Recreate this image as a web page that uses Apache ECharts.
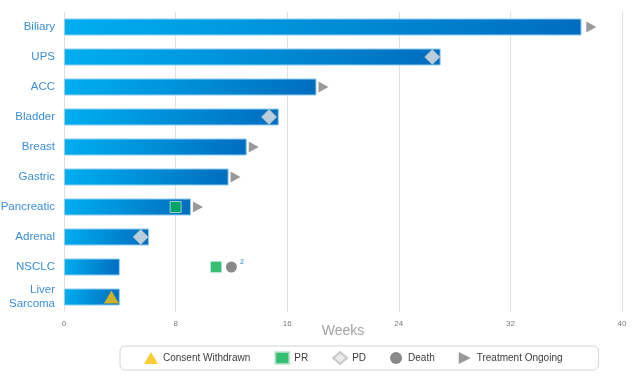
<!DOCTYPE html>
<html>
<head>
<meta charset="utf-8">
<script src="https://cdn.jsdelivr.net/npm/echarts@6/dist/echarts.min.js"></script>
<style>
  html, body { margin: 0; padding: 0; background: #fff; }
  #chart { width: 640px; height: 376px; }
</style>
</head>
<body>
<div id="chart"></div>
<script>
// tumour types, top to bottom
const categories = ['Biliary', 'UPS', 'ACC', 'Bladder', 'Breast', 'Gastric', 'Pancreatic', 'Adrenal', 'NSCLC', 'Liver\nSarcoma'];
// weeks on treatment
const weeks = [37.1, 27.0, 18.1, 15.4, 13.1, 11.8, 9.1, 6.1, 4.0, 4.0];

// events: [week, category]
const consentWithdrawn = [[3.4, 'Liver\nSarcoma']];
const prEvents = [[8.0, 'Pancreatic'], [10.9, 'NSCLC']];
const pdEvents = [[26.4, 'UPS'], [14.7, 'Bladder'], [5.5, 'Adrenal']];
const deathEvents = [[12.0, 'NSCLC']];
const ongoing = [[37.8, 'Biliary'], [18.6, 'ACC'], [13.6, 'Breast'], [12.3, 'Gastric'], [9.6, 'Pancreatic']];

const xTicks = { min: 0, max: 40, interval: 8 };

const arrowPath = 'path://M0,0 L10,5 L0,10 Z';
const font = 'Liberation Sans, Arial, sans-serif';

const chart = echarts.init(document.getElementById('chart'));

chart.setOption({
  animation: false,
  textStyle: { fontFamily: font },
  // axis title sits closer to the tick labels than the axis name would
  title: {
    text: 'Weeks',
    left: 343,
    top: 324,
    textAlign: 'center',
    padding: 0,
    textStyle: { color: '#a3a3a3', fontSize: 14, fontWeight: 'normal', fontFamily: font }
  },
  grid: { left: 64, right: 18, top: 12, bottom: 64, containLabel: false, outerBoundsMode: 'none' },
  xAxis: {
    type: 'value',
    min: xTicks.min,
    max: xTicks.max,
    interval: xTicks.interval,
    axisLine: { show: false },
    axisTick: { show: false },
    axisLabel: { color: '#7a7a7a', fontSize: 8, margin: 8 },
    splitLine: { lineStyle: { color: '#e0e0e0', width: 1 } }
  },
  yAxis: {
    type: 'category',
    inverse: true,
    data: categories,
    axisLine: { show: false },
    axisTick: { show: false },
    axisLabel: { color: '#3a8fd6', fontSize: 11.5, margin: 9, lineHeight: 14 }
  },
  legend: {
    bottom: 6,
    left: 120,
    width: 620,
    borderColor: '#d4d4d4',
    borderWidth: 1,
    borderRadius: 5,
    padding: [5, 36, 5, 24],
    itemGap: 24,
    itemWidth: 14,
    itemHeight: 12,
    textStyle: { color: '#3c3c3c', fontSize: 10 },
    data: [
      { name: 'Consent Withdrawn', icon: 'triangle' },
      { name: 'PR', icon: 'rect' },
      { name: 'PD', icon: 'diamond' },
      { name: 'Death', icon: 'circle' },
      { name: 'Treatment Ongoing', icon: arrowPath }
    ]
  },
  series: [
    {
      type: 'bar',
      name: 'Weeks',
      data: weeks,
      barWidth: 17,
      itemStyle: {
        color: new echarts.graphic.LinearGradient(0, 0, 1, 0.4, [
          { offset: 0, color: '#00aeef' },
          { offset: 1, color: '#006dbf' }
        ]),
        borderColor: '#8fcdf2',
        borderWidth: 1
      },
      z: 2
    },
    {
      type: 'scatter',
      name: 'Consent Withdrawn',
      data: consentWithdrawn,
      symbol: 'triangle',
      symbolSize: [15, 13],
      itemStyle: { color: '#ffc000' },
      z: 5
    },
    {
      type: 'scatter',
      name: 'PR',
      data: prEvents,
      symbol: 'rect',
      symbolSize: 11,
      itemStyle: { color: '#00b050', borderColor: '#bfe4d0', borderWidth: 1 },
      z: 5
    },
    {
      type: 'scatter',
      name: 'PD',
      data: pdEvents,
      symbol: 'diamond',
      symbolSize: 15,
      itemStyle: { color: '#e6e6e6', borderColor: '#bdbdbd', borderWidth: 1 },
      z: 5
    },
    {
      type: 'scatter',
      name: 'Death',
      data: deathEvents,
      symbol: 'circle',
      symbolSize: 11,
      itemStyle: { color: '#6b6b6b' },
      label: {
        show: true,
        position: 'right',
        formatter: '2',
        color: '#3a8fd6',
        fontSize: 7,
        fontWeight: 'bold',
        offset: [-2, -5]
      },
      z: 5
    },
    {
      type: 'scatter',
      name: 'Treatment Ongoing',
      data: ongoing,
      symbol: arrowPath,
      symbolSize: [10, 11],
      itemStyle: { color: '#7f7f7f' },
      z: 5
    }
  ]
});
</script>
</body>
</html>
